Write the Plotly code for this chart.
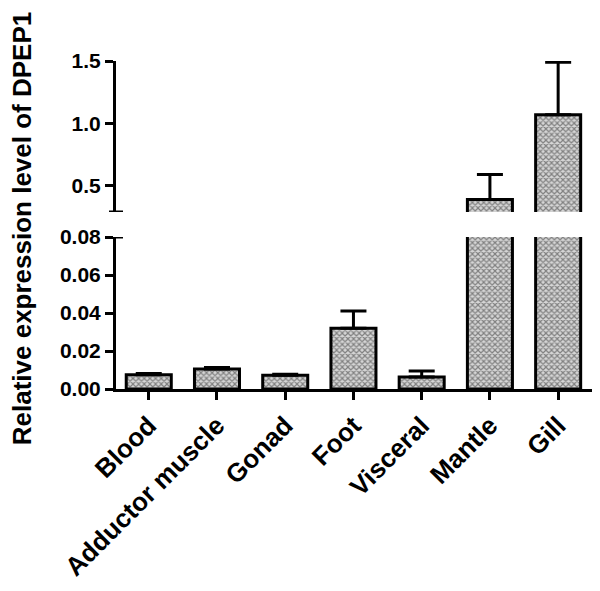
import plotly.graph_objects as go

categories = ["Blood", "Adductor muscle", "Gonad", "Foot", "Visceral", "Mantle", "Gill"]
values = [0.0075, 0.0105, 0.0072, 0.032, 0.0063, 0.39, 1.07]
errors = [0.0006, 0.0008, 0.0005, 0.009, 0.0032, 0.20, 0.42]

low_range = [0, 0.08]
high_range = [0.29, 1.5]
low_ticks = [0.00, 0.02, 0.04, 0.06, 0.08]
high_ticks = [0.5, 1.0, 1.5]
y_title = "Relative expression level of DPEP1"

FONT = "Liberation Sans, Arial, sans-serif"

OFF = 8  # page body margin offset
W, H = 600 - OFF, 591 - OFF
ml, mr, mt, mb = 116 - OFF, 5, 61 - OFF, 202
plot_h = H - mt - mb
low_top_px = 237 - OFF
high_bot_px = 212 - OFF
low_dom = [0, (H - mb - low_top_px) / plot_h]
high_dom = [(H - mb - high_bot_px) / plot_h, 1]

fig = go.Figure()

def bar_trace(yaxis):
    return go.Bar(
        x=categories, y=values, yaxis=yaxis, width=0.66,
        marker=dict(
            color="#c8c8c8",
            line=dict(color="black", width=3),
            pattern=dict(shape="x", size=4, solidity=0.5, fgcolor="#2a2a2a", bgcolor="#d6d6d6"),
        ),
        error_y=dict(type="data", array=errors, arrayminus=[0] * len(errors), symmetric=False,
                     color="black", thickness=3, width=13),
        showlegend=False,
    )

fig.add_trace(bar_trace("y"))
fig.add_trace(bar_trace("y2"))

axis_common = dict(showline=True, linecolor="black", linewidth=3, ticks="outside",
                   ticklen=8, tickwidth=3, tickcolor="black", showgrid=False, zeroline=False,
                   automargin=False,
                   tickfont=dict(family=FONT, size=21, color="black", weight="bold"))

fig.update_layout(
    width=W, height=H,
    margin=dict(l=ml, r=mr, t=mt, b=mb, autoexpand=False),
    paper_bgcolor="white", plot_bgcolor="white",
    xaxis=dict(range=[-0.48, 6.54], anchor="y", showline=True, linecolor="black", linewidth=3,
               ticks="outside", ticklen=8, tickwidth=3, tickcolor="black", showgrid=False,
               tickangle=-45, automargin=False,
               tickfont=dict(family=FONT, size=26, color="black", weight="bold")),
    yaxis=dict(domain=low_dom, range=low_range, tickvals=low_ticks, tickformat=".2f", **axis_common),
    yaxis2=dict(domain=high_dom, range=high_range, tickvals=high_ticks, tickformat=".1f", **axis_common),
    annotations=[dict(text=y_title, xref="paper", yref="paper", x=(22 - 116) / (W - ml - mr), y=0.49,
                      xanchor="center", yanchor="middle", textangle=-90, showarrow=False,
                      font=dict(family=FONT, size=26, color="black", weight="bold"))],
)

# axis-break markers
half = 7 / (W - ml - mr)
fig.add_shape(type="line", xref="paper", yref="y2", x0=-half, x1=half, y0=high_range[0], y1=high_range[0],
              line=dict(color="black", width=3))
fig.add_shape(type="line", xref="paper", yref="y", x0=-half, x1=half, y0=low_range[1], y1=low_range[1],
              line=dict(color="black", width=3))

fig.write_html("out.html")
